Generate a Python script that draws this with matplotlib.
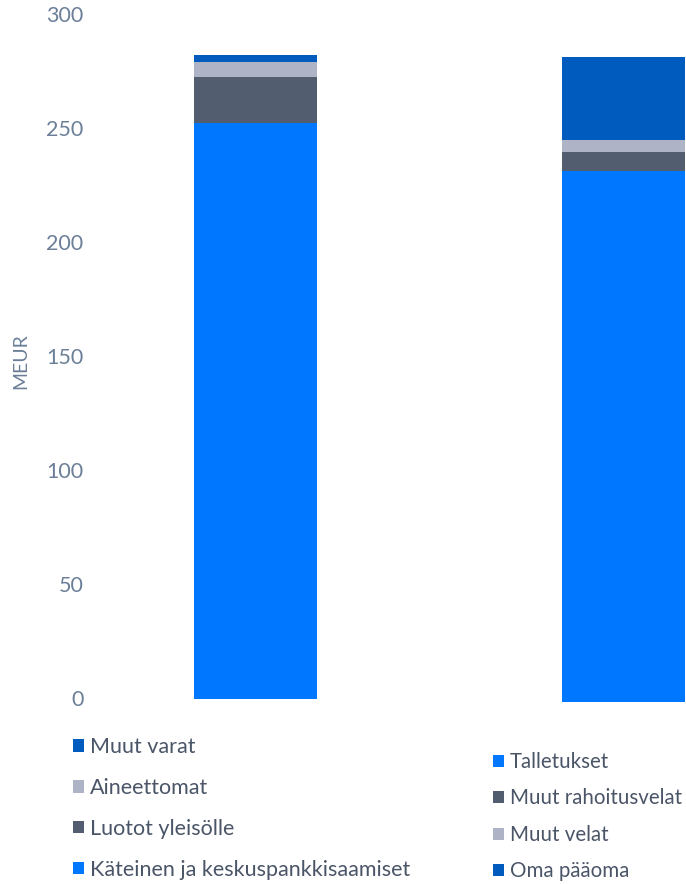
import matplotlib
matplotlib.use('Agg')
import matplotlib.pyplot as plt

# Balance sheet (MEUR)
assets = ['Käteinen ja keskuspankkisaamiset', 'Luotot yleisölle', 'Aineettomat', 'Muut varat']
asset_vals = [252.2, 20.2, 6.6, 3.0]
liabs = ['Talletukset', 'Muut rahoitusvelat', 'Muut velat', 'Oma pääoma']
liab_vals = [233.1, 8.3, 5.3, 36.4]
yticks = [0, 50, 100, 150, 200, 250, 300]

colors = ['#0077ff', '#525d6f', '#aeb4c5', '#005bbf']
tick_color = '#6b7f99'
text_color = '#4a5568'

plt.rcParams['font.family'] = ['Lato', 'DejaVu Sans']

W, H = 686, 884
fig = plt.figure(figsize=(W / 100, H / 100), dpi=100)


def px_axes(x0, x1, y_top, y_bot):
    return fig.add_axes([x0 / W, 1 - y_bot / H, (x1 - x0) / W, (y_bot - y_top) / H])


# left: assets
ax1 = px_axes(130.5, 380.5, 14, 698.5)
bottom = 0
bars_a = []
for name, v, c in zip(assets, asset_vals, colors):
    b = ax1.bar(0, v, width=0.99, bottom=bottom, color=c, label=name)
    bars_a.append(b)
    bottom += v
ax1.set_xlim(-1, 1)
ax1.set_ylim(0, 300)
ax1.set_yticks(yticks)
ax1.tick_params(axis='y', length=0, pad=34, labelsize=15.5, labelcolor=tick_color)
ax1.set_xticks([])
for s in ax1.spines.values():
    s.set_visible(False)
fig.text(21 / W, 1 - 361 / H, 'MEUR', rotation=90, ha='center', va='center',
         fontsize=14, color=tick_color)

# right: liabilities
ax2 = px_axes(498.5, 748.5, 18, 702)
bottom = 0
bars_l = []
for name, v, c in zip(liabs, liab_vals, colors):
    b = ax2.bar(0, v, width=0.99, bottom=bottom, color=c, label=name)
    bars_l.append(b)
    bottom += v
ax2.set_xlim(-1, 1)
ax2.set_ylim(0, 300)
ax2.axis('off')

leg_kw = dict(loc='upper left', frameon=False, borderpad=0, borderaxespad=0,
              handlelength=0.53, handleheight=0.53, handletextpad=0.28,
              labelcolor=text_color)
fig.legend(bars_a[::-1], assets[::-1], bbox_to_anchor=(73 / W, 1 - 737 / H),
           labelspacing=0.97, fontsize=15.5, **leg_kw)
fig.legend(bars_l, liabs, bbox_to_anchor=(493 / W, 1 - 752 / H),
           labelspacing=0.8, fontsize=14.8, **leg_kw)

fig.savefig('out.png', dpi=100)
